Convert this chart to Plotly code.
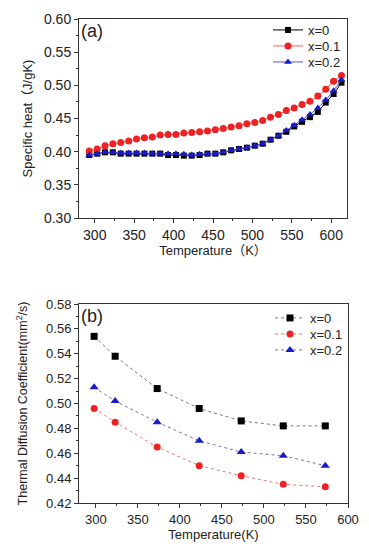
import plotly.graph_objects as go

# ---- Panel (a): specific heat ----
temp_a = [293, 303, 313, 323, 333, 343, 353, 363, 373, 383, 393, 403, 413, 423, 433, 443, 453,
          463, 473, 483, 493, 503, 513, 523, 533, 543, 553, 563, 573, 583, 593, 603, 613]
cp_x0 = [0.395, 0.397, 0.399, 0.399, 0.397, 0.397, 0.397, 0.397, 0.397, 0.397, 0.395, 0.395, 0.394, 0.394,
         0.395, 0.397, 0.397, 0.399, 0.402, 0.404, 0.406, 0.409, 0.412, 0.418, 0.424, 0.430, 0.438,
         0.445, 0.452, 0.460, 0.474, 0.487, 0.504]
cp_x01 = [0.401, 0.404, 0.409, 0.412, 0.414, 0.416, 0.419, 0.421, 0.422, 0.425, 0.426, 0.426, 0.428, 0.429,
          0.430, 0.431, 0.433, 0.435, 0.437, 0.439, 0.442, 0.444, 0.447, 0.452, 0.456, 0.462, 0.466,
          0.471, 0.476, 0.484, 0.494, 0.506, 0.515]
cp_x02 = [0.395, 0.397, 0.399, 0.399, 0.398, 0.398, 0.398, 0.398, 0.397, 0.397, 0.397, 0.397, 0.396, 0.395,
          0.396, 0.397, 0.397, 0.399, 0.402, 0.404, 0.406, 0.409, 0.412, 0.418, 0.424, 0.432, 0.440,
          0.448, 0.456, 0.466, 0.478, 0.492, 0.508]

# ---- Panel (b): thermal diffusion coefficient ----
temp_b = [298, 323, 373, 423, 473, 523, 573]
td_x0 = [0.554, 0.538, 0.512, 0.496, 0.486, 0.482, 0.482]
td_x01 = [0.496, 0.485, 0.465, 0.450, 0.442, 0.435, 0.433]
td_x02 = [0.513, 0.502, 0.485, 0.470, 0.461, 0.458, 0.450]

labels = ["x=0", "x=0.1", "x=0.2"]

FONT = "Liberation Sans, Arial, Noto Sans CJK SC, sans-serif"

W, H = 369, 550
def fx(px):
    return px / W
def fy(py):
    return 1 - py / H

fig = go.Figure()

top_style = [
    dict(line=dict(color="#000000", width=1), marker=dict(symbol="square", size=6, color="#000000")),
    dict(line=dict(color="#ff5a5a", width=1), marker=dict(symbol="circle", size=7, color="#ee2222")),
    dict(line=dict(color="#5555cc", width=1), marker=dict(symbol="triangle-up", size=7, color="#1a1acc")),
]
top_leg_names = ["legend", "legend2", "legend3"]
for lab, ys, st, lg in zip(labels, [cp_x0, cp_x01, cp_x02], top_style, top_leg_names):
    fig.add_trace(go.Scatter(x=temp_a, y=ys, name=lab, mode="lines+markers",
                             xaxis="x", yaxis="y", legend=lg, **st))

bot_style = [
    dict(line=dict(color="#777777", width=1, dash="dot"), marker=dict(symbol="square", size=7, color="#000000")),
    dict(line=dict(color="#ee7777", width=1, dash="dot"), marker=dict(symbol="circle", size=7, color="#ee2222")),
    dict(line=dict(color="#7777aa", width=1, dash="dot"), marker=dict(symbol="triangle-up", size=8, color="#1a1acc")),
]
bot_leg_names = ["legend4", "legend5", "legend6"]
for lab, ys, st, lg in zip(labels, [td_x0, td_x01, td_x02], bot_style, bot_leg_names):
    fig.add_trace(go.Scatter(x=temp_b, y=ys, name=lab, mode="lines+markers",
                             xaxis="x2", yaxis="y2", legend=lg, **st))

def axis(size, minor_dtick, minor_tick0):
    return dict(showline=True, linecolor="#333333", linewidth=1, mirror=True,
                ticks="outside", ticklen=4, tickwidth=1, tickcolor="#333333",
                showgrid=False, zeroline=False, automargin=False,
                tickfont=dict(family=FONT, size=size, color="#222222"),
                minor=dict(ticks="outside", ticklen=2, tickcolor="#333333",
                           dtick=minor_dtick, tick0=minor_tick0))

def leg(xpx, ypx):
    return dict(x=fx(xpx), y=fy(ypx), xanchor="left", yanchor="middle", bgcolor="rgba(0,0,0,0)",
                font=dict(family=FONT, size=13, color="#222222"), itemwidth=30)

top_rows = [30, 46, 62]
bot_rows = [318, 334, 350]

layout_legends = {}
for lg, r in zip(top_leg_names, top_rows):
    layout_legends[lg] = leg(268, r)
for lg, r in zip(bot_leg_names, bot_rows):
    layout_legends[lg] = leg(270, r)

fig.update_layout(
    width=W, height=H,
    margin=dict(l=0, r=0, t=0, b=0),
    paper_bgcolor="white", plot_bgcolor="white",
    font=dict(family=FONT, color="#222222"),
    xaxis=dict(domain=[fx(79), fx(347)], anchor="y", range=[280, 620],
               tickvals=[300, 350, 400, 450, 500, 550, 600],
               title=dict(text="Temperature（K）", font=dict(family=FONT, size=13), standoff=4),
               **axis(14, 25, 275)),
    yaxis=dict(domain=[fy(218), fy(19)], anchor="x", range=[0.30, 0.60],
               tickvals=[0.30, 0.35, 0.40, 0.45, 0.50, 0.55, 0.60], tickformat=".2f",
               title=dict(text="Specific heat（J/gK)", font=dict(family=FONT, size=13), standoff=8),
               **axis(14, 0.025, 0.3)),
    xaxis2=dict(domain=[fx(79), fx(348)], anchor="y2", range=[280, 600],
                tickvals=[300, 350, 400, 450, 500, 550, 600],
                title=dict(text="Temperature(K)", font=dict(family=FONT, size=13), standoff=2),
                **axis(13, 25, 275)),
    yaxis2=dict(domain=[fy(503), fy(304)], anchor="x2", range=[0.42, 0.58],
                tickvals=[0.42, 0.44, 0.46, 0.48, 0.50, 0.52, 0.54, 0.56, 0.58], tickformat=".2f",
                title=dict(text="Thermal Diffusion Coefficient(mm<sup>2</sup>/s)",
                           font=dict(family=FONT, size=12.5), standoff=15),
                **axis(13, 0.01, 0.42)),
    showlegend=True,
    annotations=[
        dict(text="(a)", x=fx(79), y=fy(19), xref="paper", yref="paper", xanchor="left", yanchor="top",
             showarrow=False, font=dict(family=FONT, size=18, color="#222222")),
        dict(text="(b)", x=fx(79), y=fy(304), xref="paper", yref="paper", xanchor="left", yanchor="top",
             showarrow=False, font=dict(family=FONT, size=18, color="#222222")),
    ],
    **layout_legends,
)

fig.write_html("out.html", config={"displayModeBar": False},
               post_script="document.body.style.margin='0';document.body.style.overflow='hidden';")
